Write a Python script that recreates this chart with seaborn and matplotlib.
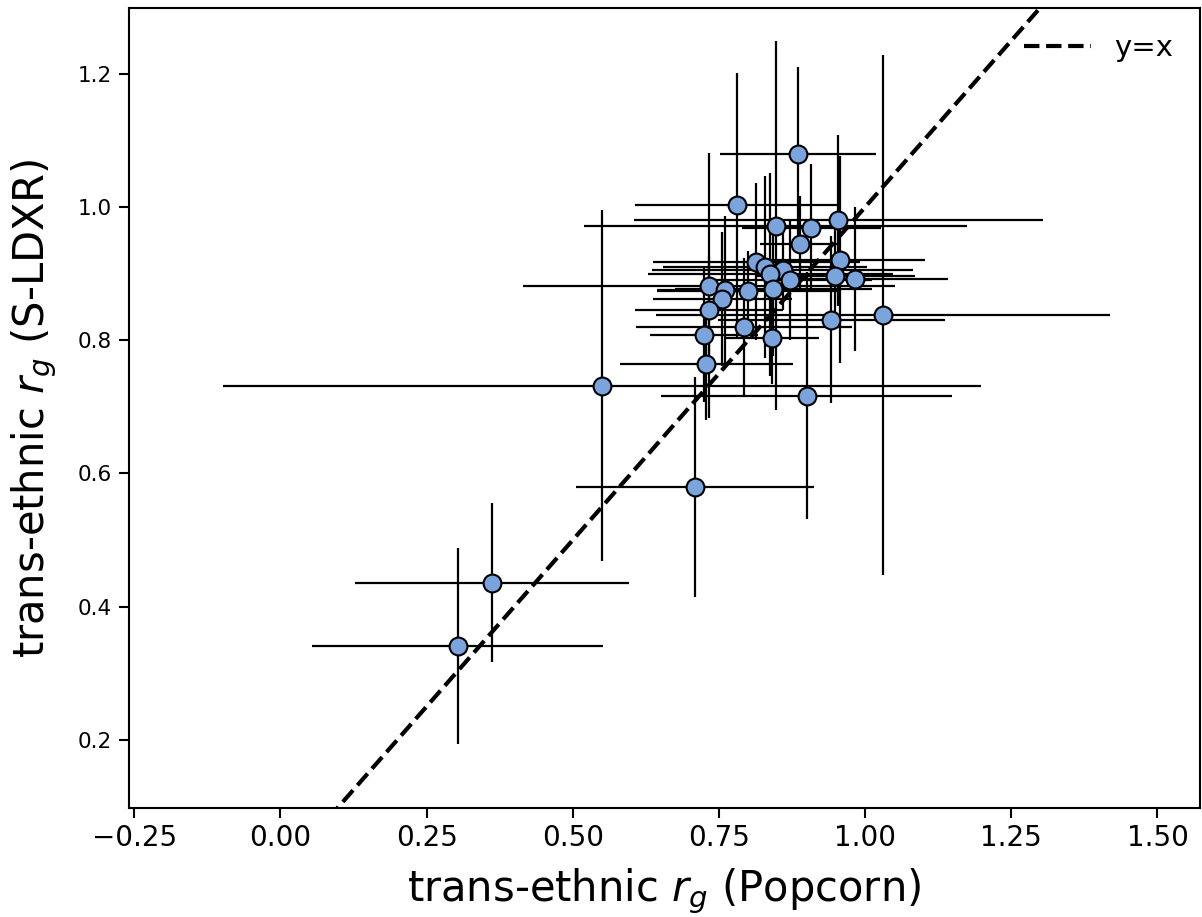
import numpy as np
import pandas as pd
import matplotlib
matplotlib.use("Agg")
import matplotlib.pyplot as plt
import seaborn as sns

# trans-ethnic genetic correlation estimates per trait
rg_popcorn = [0.885, 0.781, 0.847, 0.908, 0.954, 0.888, 0.957, 0.814, 0.829, 0.859,
              0.838, 0.872, 0.948, 0.982, 0.733, 0.760, 0.799, 0.843, 0.756, 0.733,
              1.030, 0.942, 0.724, 0.793, 0.841, 0.728, 0.550, 0.900, 0.709, 0.362,
              0.303]
rg_sldxr = [1.080, 1.003, 0.972, 0.968, 0.980, 0.945, 0.921, 0.918, 0.910, 0.906,
            0.899, 0.891, 0.897, 0.892, 0.882, 0.875, 0.874, 0.877, 0.862, 0.846,
            0.838, 0.831, 0.808, 0.820, 0.804, 0.765, 0.732, 0.717, 0.580, 0.436,
            0.341]
se_popcorn = [0.133, 0.174, 0.327, 0.119, 0.350, 0.068, 0.146, 0.177, 0.174, 0.223,
              0.209, 0.140, 0.137, 0.159, 0.318, 0.116, 0.155, 0.168, 0.119, 0.127,
              0.388, 0.194, 0.092, 0.185, 0.080, 0.148, 0.649, 0.249, 0.203, 0.235,
              0.249]
se_sldxr = [0.131, 0.199, 0.277, 0.096, 0.128, 0.071, 0.155, 0.118, 0.136, 0.060,
            0.152, 0.090, 0.080, 0.108, 0.199, 0.111, 0.060, 0.100, 0.100, 0.080,
            0.390, 0.125, 0.100, 0.104, 0.070, 0.085, 0.263, 0.185, 0.165, 0.119,
            0.147]

df = pd.DataFrame({"popcorn": rg_popcorn, "sldxr": rg_sldxr,
                   "se_popcorn": se_popcorn, "se_sldxr": se_sldxr})

sns.set_style("ticks")
plt.rcParams["font.family"] = ["DejaVu Sans"]
plt.rcParams.update({"text.color": "black", "axes.labelcolor": "black",
                     "xtick.color": "black", "ytick.color": "black",
                     "axes.edgecolor": "black"})

fig = plt.figure(figsize=(12.02, 9.17), dpi=100)
ax = fig.add_axes([0.1073, 0.1192, 0.8907, 0.8721])

xlim = (-0.259, 1.572)
ylim = (0.098, 1.299)

# y = x reference line
diag = np.array([-1.0, 2.0])
ax.plot(diag, diag, color="black", linestyle="--", linewidth=3.0, label="y=x", zorder=1)

# error bars (standard errors in both directions)
ax.errorbar(df["popcorn"], df["sldxr"], xerr=df["se_popcorn"], yerr=df["se_sldxr"],
            fmt="none", ecolor="black", elinewidth=1.6, capsize=0, zorder=2)

sns.scatterplot(data=df, x="popcorn", y="sldxr", ax=ax, s=165, color="#7ba4dc",
                edgecolor="black", linewidth=1.5, zorder=3, legend=False)

ax.set_xlim(*xlim)
ax.set_ylim(*ylim)
ax.set_xticks([-0.25, 0.0, 0.25, 0.5, 0.75, 1.0, 1.25, 1.5])
ax.set_yticks([0.2, 0.4, 0.6, 0.8, 1.0, 1.2])
ax.tick_params(axis="x", labelsize=20, length=7, width=1.5, pad=5)
ax.tick_params(axis="y", labelsize=15.5, length=7, width=1.5, pad=5)
for sp in ax.spines.values():
    sp.set_linewidth(1.5)

ax.set_xlabel("trans-ethnic $r_g$ (Popcorn)", fontsize=30, labelpad=10)
ax.set_ylabel("trans-ethnic $r_g$ (S-LDXR)", fontsize=30, labelpad=14)

ax.legend(loc="upper right", frameon=False, fontsize=21, handlelength=2.3)

fig.savefig("out.png", dpi=100)
